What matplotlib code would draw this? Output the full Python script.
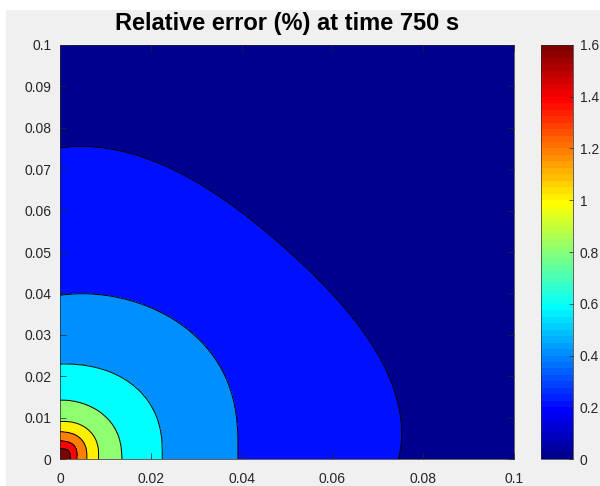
"""
Filled contour of the relative error (%) at t = 750 s, MATLAB-style (jet, black level lines).

The field is rebuilt from the level-line positions read off the original figure: for every
contour level we keep its distance from the corner at a handful of angles, smooth that in
angle, then interpolate radially between levels.

Run: python plot.py  ->  out.png
"""
import matplotlib
matplotlib.use("Agg")
import matplotlib.pyplot as plt
import numpy as np
from matplotlib.colors import ListedColormap, Normalize
from matplotlib.patches import Rectangle

plt.rcParams["font.family"] = ["Liberation Sans", "DejaVu Sans"]

TITLE = "Relative error (%) at time 750 s"

# contour levels and where each level line sits (distance from (0,0), data units)
LEVELS = [0.2, 0.4, 0.6, 0.8, 1.0, 1.2, 1.4, 1.6]
ANGLES_DEG = [0, 10, 25, 40, 50, 65, 75, 85, 90]
RADII = [
    [0.0744, 0.0760, 0.0728, 0.0718, 0.0712, 0.0728, 0.0750, 0.0760, 0.0749],  # 0.2
    [0.0391, 0.0398, 0.0410, 0.0420, 0.0423, 0.0412, 0.0408, 0.0402, 0.0394],  # 0.4
    [0.0225, 0.0228, 0.0235, 0.0240, 0.0240, 0.0236, 0.0233, 0.0230, 0.0229],  # 0.6
    [0.0136, 0.0137, 0.0140, 0.0143, 0.0143, 0.0143, 0.0143, 0.0142, 0.0142],  # 0.8
    [0.0085, 0.0086, 0.0090, 0.0093, 0.0094, 0.0094, 0.0092, 0.0091, 0.0090],  # 1.0
    [0.0059, 0.0060, 0.0063, 0.0066, 0.0067, 0.0067, 0.0066, 0.0066, 0.0066],  # 1.2
    [0.0037, 0.0038, 0.0041, 0.0044, 0.0045, 0.0045, 0.0044, 0.0044, 0.0044],  # 1.4
    [0.0022, 0.0023, 0.0025, 0.0027, 0.0027, 0.0027, 0.0026, 0.0026, 0.0026],  # 1.6
]
PEAK = 1.7          # value in the corner (above the top level)
FAR_R = 0.16        # distance where the error has dropped to 0

XTICKS = [0, 0.02, 0.04, 0.06, 0.08, 0.1]
YTICKS = [0, 0.01, 0.02, 0.03, 0.04, 0.05, 0.06, 0.07, 0.08, 0.09, 0.1]
CTICKS = [0, 0.2, 0.4, 0.6, 0.8, 1, 1.2, 1.4, 1.6]
CLIM = (0.0, 1.6)


def matlab_jet(n=64):
    """MATLAB's jet(n) (slightly different end points than matplotlib's)."""
    m = n // 4
    u = np.concatenate([np.arange(1, m + 1) / m, np.ones(m - 1), np.arange(m, 0, -1) / m])
    g = int(np.ceil(m / 2)) - (1 if n % 4 == 1 else 0) + np.arange(len(u))
    r, b = g + m, g - m
    J = np.zeros((n, 3))
    J[r[r < n], 0] = u[r < n]
    J[g[g < n], 1] = u[g < n]
    J[b[b >= 0], 2] = u[b >= 0]
    return J


def build_field(n=401):
    x = np.linspace(0, 0.1, n)
    X, Y = np.meshgrid(x, x)
    r = np.hypot(X, Y).ravel()
    th = np.degrees(np.arctan2(Y, X)).ravel() / 90.0
    # per point: radius of every level line along that direction, innermost first.
    # a low-order polynomial in angle keeps the read-off points from giving kinked lines
    a = np.array(ANGLES_DEG) / 90.0
    rad = np.array([np.polyval(np.polyfit(a, row, 5), th) for row in RADII[::-1]])
    rs = np.vstack([np.zeros_like(r), rad, np.full_like(r, FAR_R)])
    vals = np.concatenate([[PEAK], LEVELS[::-1], [0.0]])
    Z = np.zeros_like(r)
    for j in range(len(vals) - 1):
        lo, hi = rs[j], rs[j + 1]
        m = (r >= lo) & (r < hi)
        Z[m] = vals[j] + (vals[j + 1] - vals[j]) * (r[m] - lo[m]) / (hi[m] - lo[m])
    return X, Y, Z.reshape(X.shape)


def main():
    jet = matlab_jet(64)
    X, Y, Z = build_field()

    # each band takes the colour of its lower level (clim 0..1.6), as MATLAB contourf does
    bounds = [0.0] + LEVELS + [PEAK + 0.1]
    idx = [min(int(v / CLIM[1] * 64), 63) for v in bounds[:-1]]
    band_colors = [jet[i] for i in idx]

    fig = plt.figure(figsize=(6.0, 4.86), dpi=100, facecolor="#f0f0f0")
    fig.patches.append(Rectangle((0, 1 - 10 / 486), 1, 10 / 486, transform=fig.transFigure,
                                 facecolor="white", edgecolor="none", zorder=-1))
    fig.patches.append(Rectangle((0, 0), 6 / 600, 1, transform=fig.transFigure,
                                 facecolor="white", edgecolor="none", zorder=-1))

    ax = fig.add_axes([60 / 600, 27 / 486, 454 / 600, 414 / 486])
    ax.contourf(X, Y, Z, levels=bounds, colors=band_colors)
    ax.contour(X, Y, Z, levels=LEVELS, colors="black", linewidths=0.7)
    ax.set_xlim(0, 0.1); ax.set_ylim(0, 0.1)
    ax.set_xticks(XTICKS); ax.set_yticks(YTICKS)
    ax.set_xticklabels([f"{t:g}" for t in XTICKS])
    ax.set_yticklabels([f"{t:g}" for t in YTICKS])
    ax.tick_params(direction="in", length=4, width=0.5, labelsize=10, colors="#262626",
                   top=True, right=True, pad=6)
    ax.tick_params(axis="x", pad=9)
    for s in ax.spines.values():
        s.set_color("#262626"); s.set_linewidth(0.5)
    ax.set_title(TITLE, fontsize=17, fontweight="bold", color="black", pad=11)

    cax = fig.add_axes([541 / 600, 27 / 486, 32 / 600, 414 / 486])
    sm = plt.cm.ScalarMappable(norm=Normalize(*CLIM), cmap=ListedColormap(jet))
    cb = fig.colorbar(sm, cax=cax, ticks=CTICKS)
    cb.ax.set_yticklabels([f"{t:g}" for t in CTICKS])
    cb.ax.tick_params(direction="in", length=3, width=0.5, labelsize=10, colors="#262626",
                      pad=5)
    cb.outline.set_edgecolor("#262626"); cb.outline.set_linewidth(0.5)

    fig.savefig("out.png", dpi=100, facecolor=fig.get_facecolor())
    plt.close(fig)


if __name__ == "__main__":
    main()
